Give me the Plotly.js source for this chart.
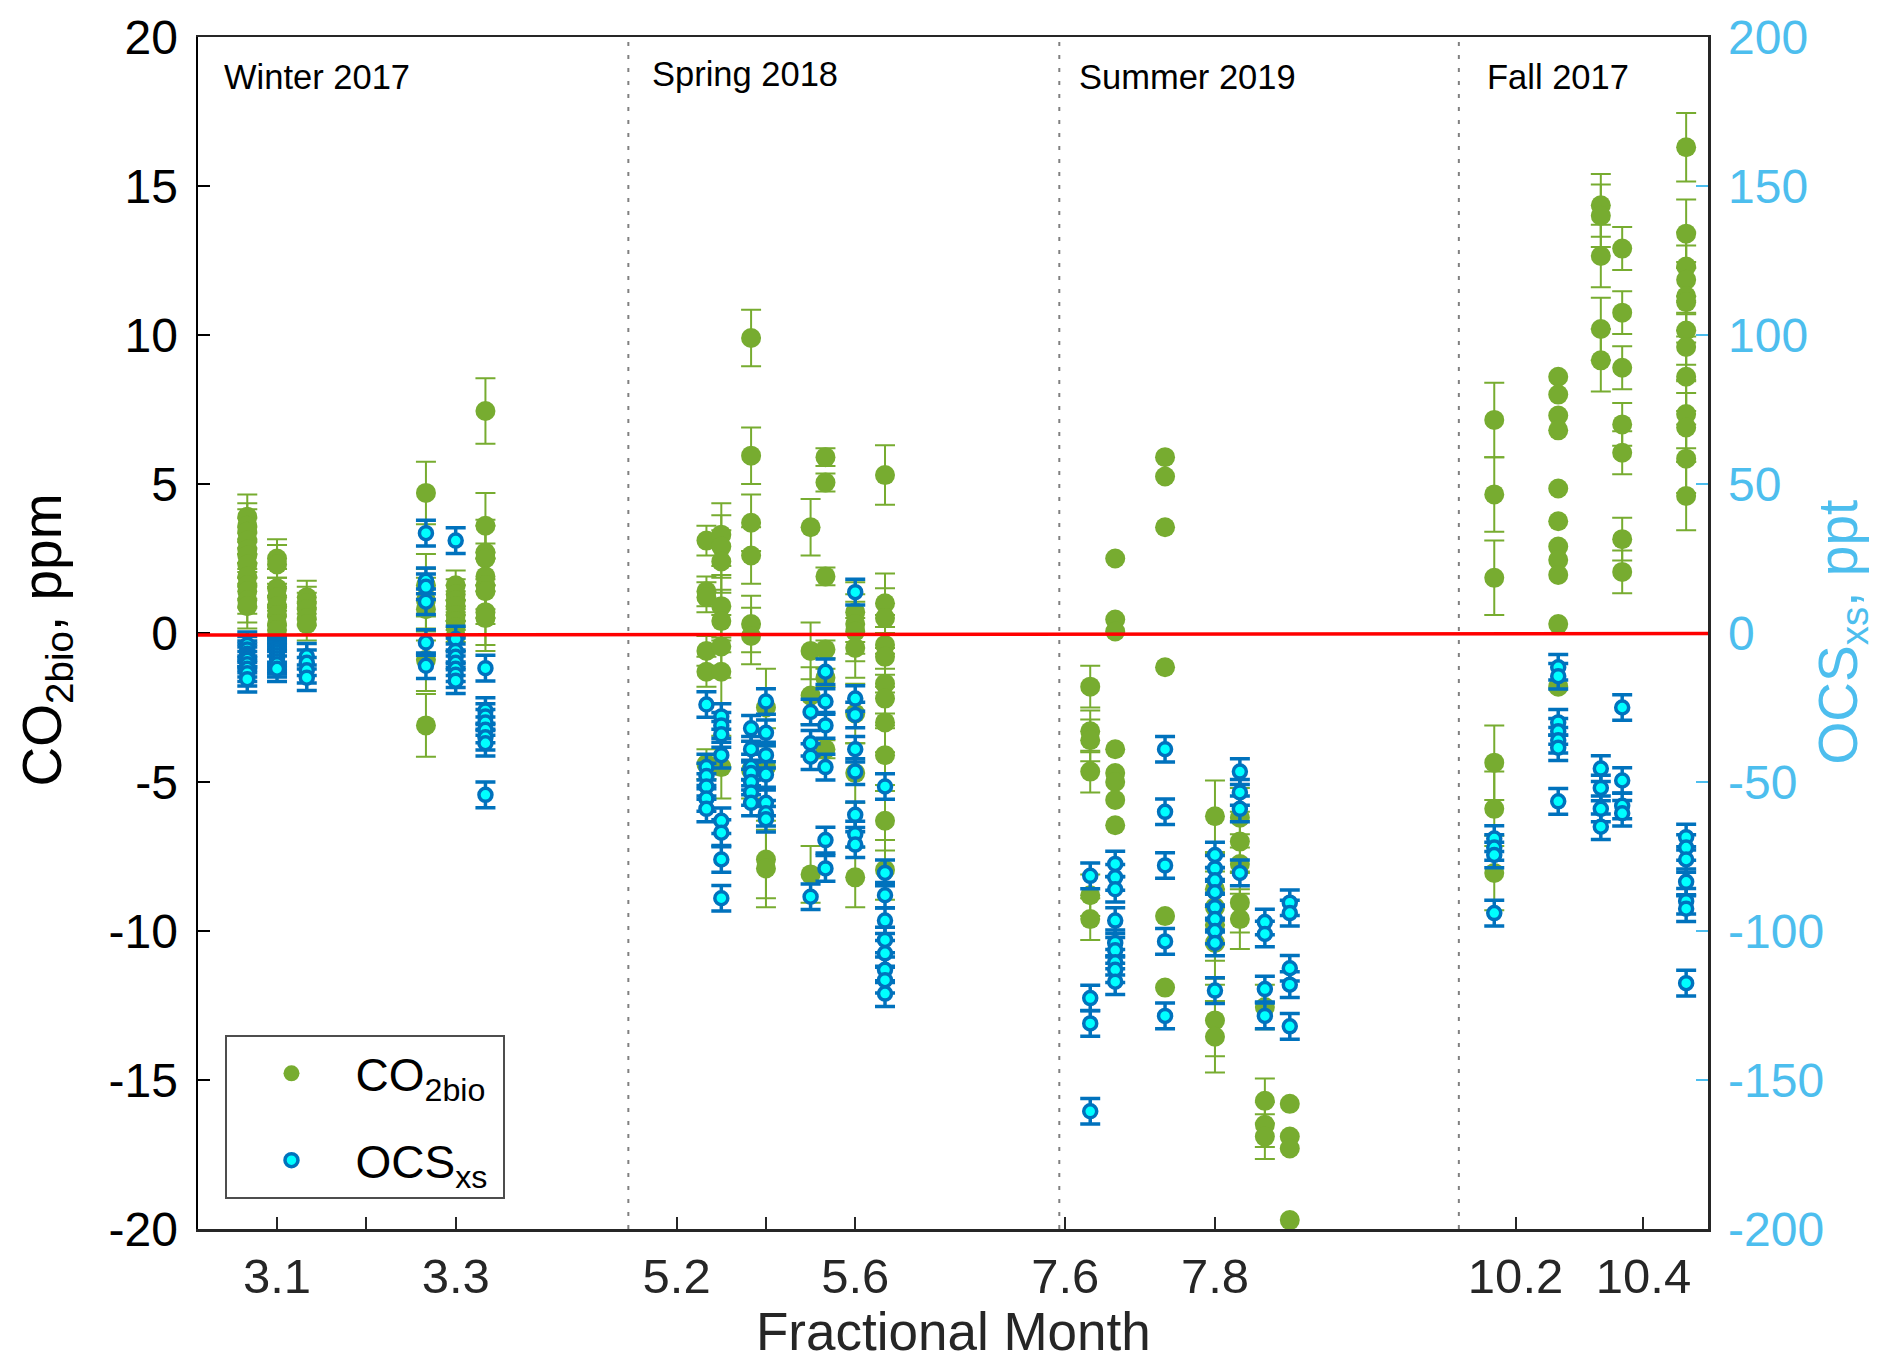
<!DOCTYPE html>
<html>
<head>
<meta charset="utf-8">
<script src="https://cdn.plot.ly/plotly-3.0.1.min.js"></script>
<style>html,body{margin:0;padding:0;background:#fff}#chart{width:1892px;height:1372px}</style>
</head>
<body>
<div id="chart"></div>
<script>
// ---------------- DATA ----------------
// x = fractional month (month + day/30), one x per cluster
const seasonNames = ['Winter 2017', 'Spring 2018', 'Summer 2019', 'Fall 2017'];

const winterDays = [3.0667, 3.1, 3.1333, 3.2667, 3.3, 3.3333];
const winterCO2 = [
  [3.9, 3.6, 3.4, 3.1, 2.8, 2.6, 2.3, 1.9, 1.6, 1.4, 1.1, 0.9],
  [2.5, 2.3, 1.5, 1.2, 0.9, 0.6, 0.3, 0.1],
  [1.2, 1.0, 0.8, 0.5, 0.3],
  [4.7, 1.6, 1.1, 0.8, -0.9, -3.1],
  [1.6, 1.3, 1.1, 0.9, 0.6, 0.4, 0.2, -0.1],
  [7.45, 3.6, 2.7, 2.5, 1.9, 1.6, 1.4, 0.7, 0.5]
];
const winterCO2Err = [0.75, 0.65, 0.55, 1.05, 0.5, 1.1];
const winterOCS = [
  [-4, -5.5, -7, -8, -9, -10.5, -12, -13.5, -15.5],
  [-5.5, -6.5, -7.5, -8.5, -9.5, -10.5, -12],
  [-7.8, -10, -12.5, -15],
  [33.5, 17.5, 15.5, 10.5, -3.2, -11],
  [31, -2, -6, -8, -10, -12, -14, -16],
  [-11.8, -26, -28, -30, -32.5, -35, -37, -54.3]
];
const winterOCSErr = [4.3, 4.3, 4.3, 4.3, 4.3, 4.3];

const springDays = [5.2667, 5.3, 5.3667, 5.4, 5.5, 5.5333, 5.6, 5.6667];
const springCO2 = [
  [3.1, 1.4, 1.2, -0.6, -1.3, -4.4],
  [3.3, 2.9, 2.4, 0.9, 0.4, -0.45, -1.3, -4.5],
  [9.9, 5.95, 3.7, 2.6, 0.3, -0.1, -4.6],
  [-2.5, -4.5, -7.6, -7.9],
  [3.55, -0.6, -2.1, -8.1],
  [5.9, 5.05, 1.9, -0.55, -1.5, -3.9],
  [0.7, 0.3, 0.05, -0.5, -2.7, -4.7, -8.2],
  [5.3, 1.0, 0.5, -0.4, -0.8, -1.7, -2.2, -3.0, -4.1, -6.3, -7.95]
];
const springCO2Err = [0.5, 1.05, 0.95, 1.3, 0.95, 0.3, 1.0, 1.0];
const springOCS = [
  [-24, -45, -48, -51.5, -55.5, -59],
  [-28, -31, -34, -41, -63, -67, -76, -89],
  [-32, -39, -45, -47, -50, -53.5, -57],
  [-23, -33.5, -41, -47.5, -57, -60.5, -62.5],
  [-26.5, -37, -41.5, -88.5],
  [-13, -23, -31, -45, -69.5, -79],
  [13.7, -22, -27.5, -39, -46.5, -61, -67.5, -71],
  [-51.5, -80.5, -88, -96.5, -103, -107.5, -113, -116.5, -121]
];
const springOCSErr = [4.3, 4.3, 4.3, 4.3, 4.3, 4.3, 4.3, 4.3];

const summerDays = [7.6333, 7.6667, 7.7333, 7.8, 7.8333, 7.8667, 7.9];
const summerCO2 = [
  [-1.8, -3.3, -3.6, -4.65, -8.8, -9.6],
  [2.5, 0.45, 0.05, -3.9, -4.7, -5.0, -5.6, -6.45],
  [5.9, 5.25, 3.55, -1.15, -9.5, -11.9],
  [-6.15, -8.6, -9.2, -9.8, -10.4, -13.0, -13.55],
  [-6.2, -7.0, -7.75, -9.05, -9.6],
  [-12.55, -15.7, -16.5, -16.9],
  [-15.8, -16.9, -17.3, -19.7]
];
const summerCO2Err = [0.7, 0, 0, 1.2, 1.0, 0.75, 0];
const summerOCS = [
  [-81.5, -122.5, -131, -160.5],
  [-77.5, -82, -86, -96.5, -104, -106.5, -110.5, -113, -117],
  [-39, -60, -78, -103.5, -128.5],
  [-74.5, -79, -83, -87, -92, -96, -100, -104, -120],
  [-46.5, -53.5, -59, -80.5],
  [-97, -101, -119.5, -128.5],
  [-90.5, -94, -112.5, -118, -132]
];
const summerOCSErr = [4.3, 4.3, 4.3, 4.3, 4.3, 4.3, 4.3];

const fallDays = [10.1667, 10.2667, 10.3333, 10.3667, 10.4667];
const fallCO2 = [
  [7.15, 4.65, 1.85, -4.35, -5.9, -8.05],
  [8.6, 8.0, 7.3, 6.8, 4.85, 3.75, 2.9, 2.45, 1.95, 0.3, -1.8],
  [14.35, 14.0, 12.65, 10.2, 9.15],
  [12.9, 10.75, 8.9, 7.0, 6.05, 3.15, 2.05],
  [16.3, 13.4, 12.3, 11.85, 11.3, 11.1, 10.15, 9.6, 8.6, 7.35, 6.9, 5.85, 4.6]
];
const fallCO2Err = [1.25, 0, 1.05, 0.72, 1.15];
const fallOCS = [
  [-69, -72, -74.5, -94],
  [-11.5, -14.5, -30, -33, -36, -38.5, -56.5],
  [-45.5, -52, -59, -65],
  [-25, -49.5, -58, -60.5],
  [-68.5, -72, -76, -83.5, -90, -92.5, -117.5]
];
const fallOCSErr = [4.3, 4.3, 4.3, 4.3, 4.3];

// near-zero fit line (ppm) at left and right ends
const fitLine = [-0.07, -0.02];

// tick values / labels
const xTickVals = [[3.1, 3.2, 3.3], [5.2, 5.4, 5.6], [7.6, 7.8], [10.2, 10.4]];
const xTickText = [['3.1', '', '3.3'], ['5.2', '', '5.6'], ['7.6', '7.8'], ['10.2', '10.4']];
const yTickVals = [-20, -15, -10, -5, 0, 5, 10, 15, 20];
const yTickText = ['-20', '-15', '-10', '-5', '0', '5', '10', '15', '20'];
const y2TickVals = [-200, -150, -100, -50, 0, 50, 100, 150, 200];
const y2TickText = ['-200', '-150', '-100', '-50', '0', '50', '100', '150', '200'];

// ---------------- BUILD ----------------
const seasons = [
  {days: winterDays, co2: winterCO2, co2Err: winterCO2Err, ocs: winterOCS, ocsErr: winterOCSErr},
  {days: springDays, co2: springCO2, co2Err: springCO2Err, ocs: springOCS, ocsErr: springOCSErr},
  {days: summerDays, co2: summerCO2, co2Err: summerCO2Err, ocs: summerOCS, ocsErr: summerOCSErr},
  {days: fallDays, co2: fallCO2, co2Err: fallCO2Err, ocs: fallOCS, ocsErr: fallOCSErr}
];

const GREEN = '#77AC30', BLUE = '#0072BD', CYAN = '#00FFFF', LBLUE = '#4DBEEE', DARK = '#262626';
const FONT = 'Liberation Sans, Arial, Helvetica, sans-serif';

function flatten(days, groups, errs) {
  const x = [], y = [], e = [];
  days.forEach((d, j) => groups[j].forEach(v => {
    x.push(d); y.push(v); e.push(errs[j] > 0 ? errs[j] : NaN);
  }));
  return {x, y, e};
}

const traces = [];
seasons.forEach((s, i) => {
  const xa = i === 0 ? 'x' : 'x' + (i + 1);
  const f = flatten(s.days, s.co2, s.co2Err);
  traces.push({
    type: 'scatter', mode: 'markers', x: f.x, y: f.y, xaxis: xa, yaxis: 'y',
    name: 'CO<sub>2bio</sub>&nbsp;', legendgroup: 'co2', showlegend: i === 0,
    marker: {color: GREEN, size: 20, line: {width: 0}},
    error_y: {type: 'data', array: f.e, visible: true, color: GREEN, thickness: 2, width: 10}
  });
});
seasons.forEach((s, i) => {
  const xa = i === 0 ? 'x' : 'x' + (i + 1);
  const f = flatten(s.days, s.ocs, s.ocsErr);
  traces.push({
    type: 'scatter', mode: 'markers', x: f.x, y: f.y, xaxis: xa, yaxis: 'y2',
    name: 'OCS<sub>xs</sub>', legendgroup: 'ocs', showlegend: i === 0,
    marker: {color: CYAN, size: 13, line: {color: BLUE, width: 3.5}},
    error_y: {type: 'data', array: f.e, visible: true, color: BLUE, thickness: 3.5, width: 10}
  });
});

// axis layout (domains / ranges of each season panel)
const domains = [[0, 0.2850], [0.2850, 0.5704], [0.5704, 0.8350], [0.8350, 1]];
const ranges = [[3.01153, 3.49328], [5.09176, 6.05714], [7.59198, 8.12594], [10.11134, 10.50086]];

const layout = {
  width: 1892, height: 1372,
  margin: {l: 198, r: 184, t: 37, b: 143, pad: 0},
  paper_bgcolor: '#fff', plot_bgcolor: '#fff',
  font: {family: FONT, color: DARK},
  showlegend: true,
  legend: {
    x: 0.0182, y: 0.1628, xanchor: 'left', yanchor: 'top',
    bgcolor: '#fff', bordercolor: '#4d4d4d', borderwidth: 2,
    font: {family: FONT, size: 46, color: '#000'},
    itemwidth: 118, traceorder: 'grouped', tracegroupgap: 24
  },
  yaxis: {
    domain: [0, 1], range: [-20, 20], anchor: 'x',
    tickmode: 'array', tickvals: yTickVals, ticktext: yTickText,
    ticks: 'inside', ticklen: 12, tickwidth: 2, tickcolor: '#000',
    tickfont: {family: FONT, size: 48, color: '#000'},
    showline: true, linecolor: '#000', linewidth: 2.5,
    showgrid: false, zeroline: false, ticklabelstandoff: 8
  },
  yaxis2: {
    overlaying: 'y', side: 'right', anchor: 'x4', range: [-200, 200],
    tickmode: 'array', tickvals: y2TickVals, ticktext: y2TickText,
    ticks: 'inside', ticklen: 12, tickwidth: 2, tickcolor: LBLUE,
    tickfont: {family: FONT, size: 48, color: LBLUE},
    showline: true, linecolor: DARK, linewidth: 2.5,
    showgrid: false, zeroline: false, ticklabelstandoff: 8
  },
  shapes: [],
  annotations: []
};

domains.forEach((d, i) => {
  const key = i === 0 ? 'xaxis' : 'xaxis' + (i + 1);
  layout[key] = {
    domain: d, range: ranges[i], anchor: 'y',
    tickmode: 'array', tickvals: xTickVals[i], ticktext: xTickText[i],
    ticks: 'inside', ticklen: 12, tickwidth: 2, tickcolor: DARK,
    tickfont: {family: FONT, size: 49, color: DARK},
    showline: true, mirror: true, linecolor: DARK, linewidth: 2.5,
    showgrid: false, zeroline: false, ticklabelstandoff: 3
  };
  if (i > 0) {
    layout.shapes.push({
      type: 'line', xref: 'paper', yref: 'paper', x0: d[0], x1: d[0], y0: 0, y1: 1,
      line: {color: '#808080', width: 2, dash: '4px,9px'}, layer: 'below'
    });
  }
});

layout.shapes.push({
  type: 'line', xref: 'paper', yref: 'y', x0: 0, x1: 1, y0: fitLine[0], y1: fitLine[1],
  line: {color: '#FF0000', width: 3.5}, layer: 'above'
});

// season labels
const labelX = [0.0162, 0.2994, 0.5824, 0.8526];
const labelY = [0.9664, 0.9690, 0.9664, 0.9664];
seasonNames.forEach((n, i) => {
  layout.annotations.push({
    text: n, xref: 'paper', yref: 'paper', x: labelX[i], y: labelY[i],
    xanchor: 'left', yanchor: 'middle', showarrow: false,
    font: {family: FONT, size: 34.5, color: '#000'}
  });
});

// axis titles
layout.annotations.push({
  text: 'Fractional Month', xref: 'paper', yref: 'paper', x: 0.5, y: -0.0864,
  xanchor: 'center', yanchor: 'middle', showarrow: false,
  font: {family: FONT, size: 53, color: DARK}
});
layout.annotations.push({
  text: 'CO<sub>2bio</sub>, ppm', xref: 'paper', yref: 'paper', x: -0.1005, y: 0.494,
  xanchor: 'center', yanchor: 'middle', showarrow: false, textangle: -90,
  font: {family: FONT, size: 55, color: '#000'}
});
layout.annotations.push({
  text: 'OCS<sub>xs</sub>, ppt', xref: 'paper', yref: 'paper', x: 1.0885, y: 0.501,
  xanchor: 'center', yanchor: 'middle', showarrow: false, textangle: -90,
  font: {family: FONT, size: 55, color: LBLUE}
});

Plotly.newPlot('chart', traces, layout, {displayModeBar: false, staticPlot: true});
</script>
</body>
</html>
